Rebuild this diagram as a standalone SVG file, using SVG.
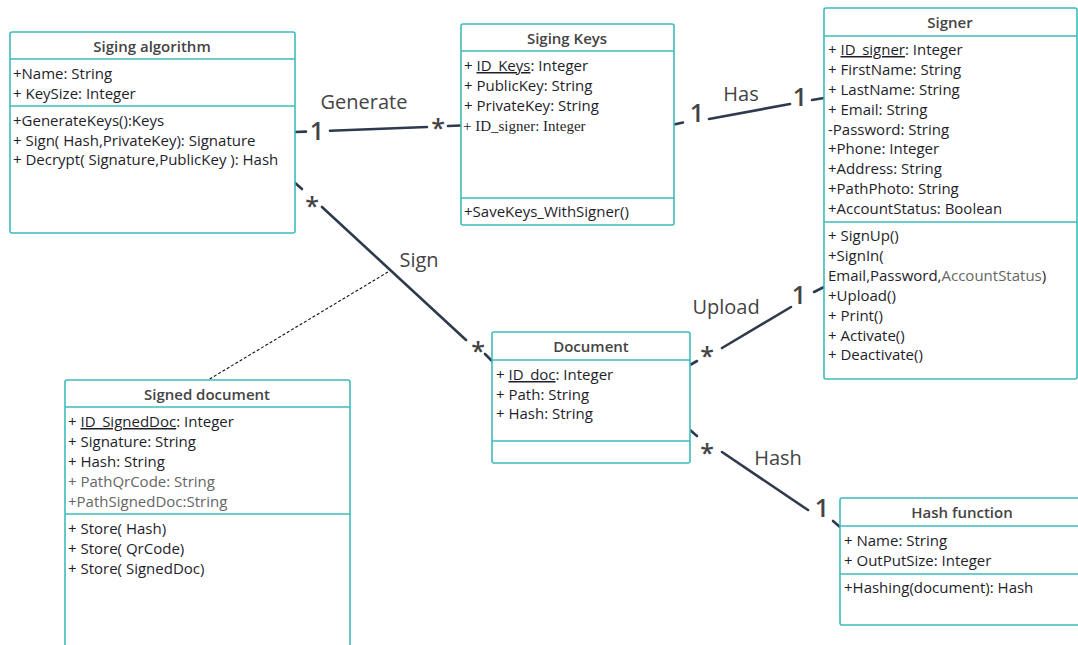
<svg xmlns="http://www.w3.org/2000/svg" width="1078" height="645" viewBox="0 0 1078 645">
  <style>
    .box { fill: #ffffff; stroke: #3cbcbc; stroke-width: 1.6; }
    .sep { stroke: #3cbcbc; stroke-width: 1.6; }
    .title { font-family: "Open Sans", "Noto Sans", sans-serif; font-size: 15px; font-weight: 600; fill: #444444; text-anchor: middle; }
    .t { font-family: "Open Sans", "Noto Sans", sans-serif; font-size: 15px; fill: #1e1e2a; }
    .serif { font-family: "Liberation Serif", "DejaVu Serif", serif; font-size: 15px; fill: #1e1e2a; }
    .grey { fill: #666666; }
    .u { text-decoration: underline; }
    .assoc { stroke: #2f3a4e; stroke-width: 2.6; fill: none; stroke-linecap: round; }
    .dash { stroke: #111111; stroke-width: 1.1; stroke-dasharray: 3 2; fill: none; }
    .lbl { font-family: "Open Sans", "Noto Sans", sans-serif; font-size: 20px; fill: #444444; text-anchor: middle; }
    .mult { font-family: "Open Sans", "Noto Sans", sans-serif; font-size: 25px; font-weight: 600; fill: #444444; text-anchor: middle; }
  </style>

  <rect width="1078" height="645" fill="#ffffff"/>

  <!-- associations -->
  <g id="connectors">
    <!-- Generate -->
    <line class="assoc" x1="295" y1="132" x2="306" y2="131.6"/>
    <line class="assoc" x1="330" y1="130.8" x2="427" y2="127"/>
    <line class="assoc" x1="448" y1="126" x2="461" y2="125.5"/>
    <text class="lbl" x="364" y="109">Generate</text>
    <text class="mult" x="317" y="140">1</text>
    <text class="mult" x="438" y="137">*</text>

    <!-- Has -->
    <line class="assoc" x1="674" y1="124.5" x2="683" y2="122.5"/>
    <line class="assoc" x1="709" y1="119" x2="790" y2="104"/>
    <line class="assoc" x1="812" y1="100" x2="824" y2="98"/>
    <text class="lbl" x="741" y="101">Has</text>
    <text class="mult" x="697" y="122">1</text>
    <text class="mult" x="800" y="106">1</text>

    <!-- Sign -->
    <line class="assoc" x1="294" y1="182" x2="302" y2="189"/>
    <line class="assoc" x1="322" y1="207" x2="466" y2="340"/>
    <line class="assoc" x1="485" y1="354" x2="492" y2="361"/>
    <text class="lbl" x="419" y="267">Sign</text>
    <text class="mult" x="312" y="215">*</text>
    <text class="mult" x="478" y="360">*</text>
    <line class="dash" x1="388" y1="272" x2="208" y2="380"/>

    <!-- Upload -->
    <line class="assoc" x1="690" y1="365" x2="697" y2="361"/>
    <line class="assoc" x1="722" y1="348" x2="791" y2="307"/>
    <line class="assoc" x1="814" y1="292" x2="824" y2="287"/>
    <text class="lbl" x="726" y="314">Upload</text>
    <text class="mult" x="707" y="365">*</text>
    <text class="mult" x="799" y="304">1</text>

    <!-- Hash -->
    <line class="assoc" x1="690" y1="430" x2="697" y2="436"/>
    <line class="assoc" x1="722" y1="452" x2="808" y2="510"/>
    <line class="assoc" x1="833" y1="521" x2="840" y2="527"/>
    <text class="lbl" x="778" y="465">Hash</text>
    <text class="mult" x="707" y="462">*</text>
    <text class="mult" x="822" y="517">1</text>
  </g>

  <!-- Siging algorithm -->
  <g id="siging-algorithm">
    <rect class="box" x="10" y="32" width="285" height="201" rx="2"/>
    <line class="sep" x1="10" y1="59" x2="295" y2="59"/>
    <line class="sep" x1="10" y1="106" x2="295" y2="106"/>
    <text class="title" x="152" y="52">Siging algorithm</text>
    <text class="t" x="13" y="79">+Name: String</text>
    <text class="t" x="13" y="99">+ KeySize: Integer</text>
    <text class="t" x="13" y="126">+GenerateKeys():Keys</text>
    <text class="t" x="13" y="146">+ Sign( Hash,PrivateKey): Signature</text>
    <text class="t" x="13" y="165">+ Decrypt( Signature,PublicKey ): Hash</text>
  </g>

  <!-- Siging Keys -->
  <g id="siging-keys">
    <rect class="box" x="461" y="24" width="213" height="201" rx="2"/>
    <line class="sep" x1="461" y1="51" x2="674" y2="51"/>
    <line class="sep" x1="461" y1="198" x2="674" y2="198"/>
    <text class="title" x="567" y="44">Siging Keys</text>
    <text class="t" x="464" y="71">+ <tspan class="u">ID_Keys</tspan>: Integer</text>
    <text class="t" x="464" y="91">+ PublicKey: String</text>
    <text class="t" x="464" y="111">+ PrivateKey: String</text>
    <text class="serif" x="463" y="131">+ ID_signer: Integer</text>
    <text class="t" x="464" y="217">+SaveKeys_WithSigner()</text>
  </g>

  <!-- Signer -->
  <g id="signer">
    <rect class="box" x="824" y="8" width="253" height="371" rx="2"/>
    <line class="sep" x1="824" y1="36" x2="1077" y2="36"/>
    <line class="sep" x1="824" y1="222" x2="1077" y2="222"/>
    <text class="title" x="950" y="28">Signer</text>
    <text class="t" x="828" y="55">+ <tspan class="u">ID_signer</tspan>: Integer</text>
    <text class="t" x="828" y="75">+ FirstName: String</text>
    <text class="t" x="828" y="95">+ LastName: String</text>
    <text class="t" x="828" y="115">+ Email: String</text>
    <text class="t" x="828" y="135">-Password: String</text>
    <text class="t" x="828" y="154">+Phone: Integer</text>
    <text class="t" x="828" y="174">+Address: String</text>
    <text class="t" x="828" y="194">+PathPhoto: String</text>
    <text class="t" x="828" y="214">+AccountStatus: Boolean</text>
    <text class="t" x="828" y="241">+ SignUp()</text>
    <text class="t" x="828" y="261">+SignIn(</text>
    <text class="t" x="828" y="281">Email,Password,<tspan class="grey">AccountStatus</tspan>)</text>
    <text class="t" x="828" y="301">+Upload()</text>
    <text class="t" x="828" y="321">+ Print()</text>
    <text class="t" x="828" y="341">+ Activate()</text>
    <text class="t" x="828" y="360">+ Deactivate()</text>
  </g>

  <!-- Signed document -->
  <g id="signed-document">
    <rect class="box" x="65" y="380" width="285" height="280" rx="2"/>
    <line class="sep" x1="65" y1="407" x2="350" y2="407"/>
    <line class="sep" x1="65" y1="514" x2="350" y2="514"/>
    <text class="title" x="207" y="400">Signed document</text>
    <text class="t" x="68" y="427">+ <tspan class="u">ID_SignedDoc</tspan>: Integer</text>
    <text class="t" x="68" y="447">+ Signature: String</text>
    <text class="t" x="68" y="467">+ Hash: String</text>
    <text class="t grey" x="68" y="487">+ PathQrCode: String</text>
    <text class="t grey" x="68" y="507">+PathSignedDoc:String</text>
    <text class="t" x="68" y="534">+ Store( Hash)</text>
    <text class="t" x="68" y="554">+ Store( QrCode)</text>
    <text class="t" x="68" y="574">+ Store( SignedDoc)</text>
  </g>

  <!-- Document -->
  <g id="document">
    <rect class="box" x="492" y="332" width="198" height="131" rx="2"/>
    <line class="sep" x1="492" y1="360" x2="690" y2="360"/>
    <line class="sep" x1="492" y1="441" x2="690" y2="441"/>
    <text class="title" x="591" y="352">Document</text>
    <text class="t" x="496" y="380">+ <tspan class="u">ID_doc</tspan>: Integer</text>
    <text class="t" x="496" y="400">+ Path: String</text>
    <text class="t" x="496" y="419">+ Hash: String</text>
  </g>

  <!-- Hash function -->
  <g id="hash-function">
    <rect class="box" x="840" y="498" width="250" height="127" rx="2"/>
    <line class="sep" x1="840" y1="526" x2="1078" y2="526"/>
    <line class="sep" x1="840" y1="574" x2="1078" y2="574"/>
    <text class="title" x="962" y="518">Hash function</text>
    <text class="t" x="844" y="546">+ Name: String</text>
    <text class="t" x="844" y="566">+ OutPutSize: Integer</text>
    <text class="t" x="844" y="593">+Hashing(document): Hash</text>
  </g>
</svg>
